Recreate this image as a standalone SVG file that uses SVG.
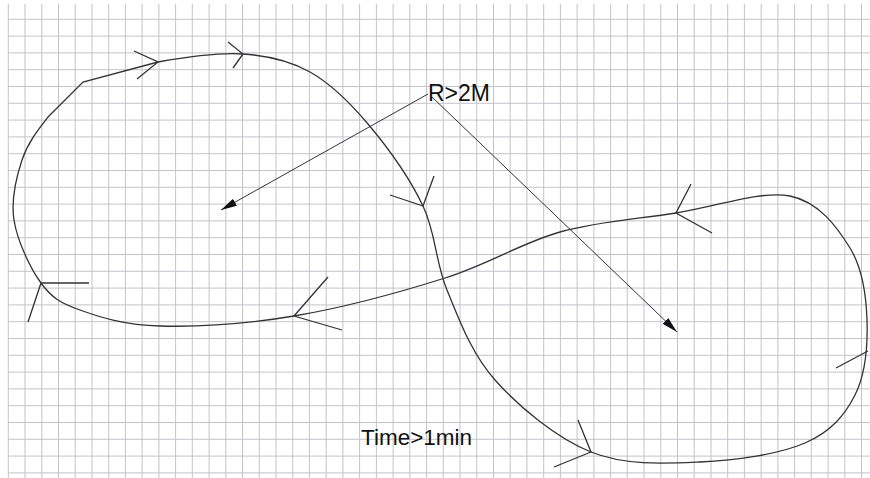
<svg xmlns="http://www.w3.org/2000/svg" width="870" height="478" viewBox="0 0 870 478">
<style>
.grid{stroke:#c3c3cb;stroke-width:1;fill:none}
.curve{stroke:#333;stroke-width:1.3;fill:none}
.barb{stroke:#333;stroke-width:1.3;fill:none;stroke-linejoin:miter}
.ray{stroke:#333;stroke-width:1;fill:none}
.lbl{font-family:"Liberation Sans",Arial,sans-serif;fill:#111}
</style>
<defs>
<marker id="fill-head" viewBox="0 0 16 8" refX="16" refY="4" markerWidth="16" markerHeight="8" markerUnits="userSpaceOnUse" orient="auto">
<path d="M0 0 L16 4 L0 8 Z" fill="#111"/>
</marker>
</defs>
<rect width="870" height="478" fill="#fff"/>
<g id="grid">
<path class="grid" d="M8.3 4V478M25 4V478M41.8 4V478M58.5 4V478M75.2 4V478M92 4V478M108.7 4V478M125.4 4V478M142.1 4V478M158.9 4V478M175.6 4V478M192.3 4V478M209.1 4V478M225.8 4V478M242.5 4V478M259.3 4V478M276 4V478M292.7 4V478M309.4 4V478M326.2 4V478M342.9 4V478M359.6 4V478M376.4 4V478M393.1 4V478M409.8 4V478M426.6 4V478M443.3 4V478M460 4V478M476.7 4V478M493.5 4V478M510.2 4V478M526.9 4V478M543.7 4V478M560.4 4V478M577.1 4V478M593.9 4V478M610.6 4V478M627.3 4V478M644 4V478M660.8 4V478M677.5 4V478M694.2 4V478M711 4V478M727.7 4V478M744.4 4V478M761.2 4V478M777.9 4V478M794.6 4V478M811.3 4V478M828.1 4V478M844.8 4V478M861.5 4V478"/>
<path class="grid" d="M8.3 19.3H870M8.3 36.1H870M8.3 52.9H870M8.3 69.7H870M8.3 86.5H870M8.3 103.3H870M8.3 120.1H870M8.3 136.9H870M8.3 153.7H870M8.3 170.5H870M8.3 187.3H870M8.3 204.1H870M8.3 220.9H870M8.3 237.7H870M8.3 254.5H870M8.3 271.3H870M8.3 288.1H870M8.3 304.9H870M8.3 321.7H870M8.3 338.5H870M8.3 355.3H870M8.3 372.1H870M8.3 388.9H870M8.3 405.7H870M8.3 422.5H870M8.3 439.3H870M8.3 456.1H870M8.3 472.9H870"/>
</g>
<g id="connectors">
<path id="loop" class="curve" d="M158 62 C184.7 57.3 217.7 52.3 243 54 C268.3 55.7 289.2 60.3 310 72 C330.8 83.7 349.2 101.7 368 124 C386.8 146.3 409.8 178.3 423 206 C436.2 233.7 435 261 447 290 C459 319 471 353 495 380 C519 407 556.8 438.3 591 452 C625.2 465.7 664.3 463.5 700 462 C735.7 460.5 779.2 454.2 805 443 C830.8 431.8 844.7 415.5 855 395 C865.3 374.5 867.8 344.5 867 320 C866.2 295.5 862.8 268.7 850 248 C837.2 227.3 819 201.8 790 196 C761 190.2 714.3 207 676 213 C637.7 219 598.5 221.2 560 232 C521.5 242.8 489.3 264 445 278 C400.7 292 341.5 308 294 316 C246.5 324 195.7 327 160 326 C124.3 325 99.8 317.2 80 310 C60.2 302.8 52 298 41 283 C30 268 17.2 240.5 14 220 C10.8 199.5 16.3 177.2 22 160 C27.7 142.8 37.8 130 48 117 L83 82 L158 62"/>
<g id="barbs">
<path class="barb" d="M134 51 L158 62 L137 79"/>
<path class="barb" d="M228 42 L243 54 L233 68"/>
<path class="barb" d="M390 195 L423 206 L434 176"/>
<path class="barb" d="M691 184 L676 213 L712 233"/>
<path class="barb" d="M328 277 L294 316 L342 330"/>
<path class="barb" d="M89 283 L41 283 L28 322"/>
<path class="barb" d="M578 420 L591 452 L554 467"/>
<path class="barb" d="M836 368 L868 351"/>
</g>
<path id="ray-left" class="ray" d="M428 94 L221 210" marker-end="url(#fill-head)"/>
<path id="ray-right" class="ray" d="M432 97 L677 332" marker-end="url(#fill-head)"/>
</g>
<g id="label-radius"><text class="lbl" x="428" y="101" font-size="23">R&gt;2M</text></g>
<g id="label-time"><text class="lbl" x="361" y="445" font-size="22.5">Time&gt;1min</text></g>
</svg>
